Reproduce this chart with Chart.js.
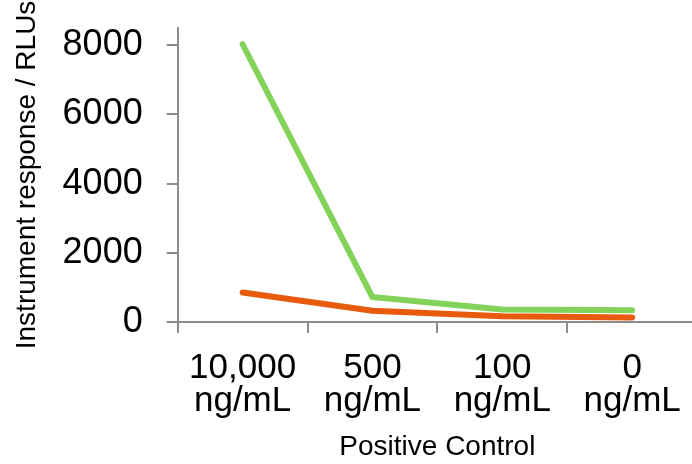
<!DOCTYPE html>
<html>
<head>
<meta charset="utf-8">
<script src="https://cdn.jsdelivr.net/npm/chart.js@4.4.1/dist/chart.umd.min.js"></script>
<style>
  body { margin: 0; background: #fff; overflow: hidden; }
</style>
</head>
<body>
<canvas id="responseChart" width="700" height="464"></canvas>
<script>
// categories and series
const concentrations = [['10,000', 'ng/mL'], ['500', 'ng/mL'], ['100', 'ng/mL'], ['0', 'ng/mL']];
const greenSeries = [8030, 720, 360, 340];
const orangeSeries = [850, 320, 165, 130];
const yTicks = [0, 2000, 4000, 6000, 8000];

const axisGrey = '#8c8c8c';

const ctx = document.getElementById('responseChart').getContext('2d');
new Chart(ctx, {
  type: 'line',
  data: {
    labels: concentrations,
    datasets: [{
      label: 'Sample A',
      data: greenSeries,
      borderColor: 'rgb(131, 210, 90)',
      borderWidth: 6,
      borderCapStyle: 'round',
      borderJoinStyle: 'round',
      pointRadius: 0,
      tension: 0,
    }, {
      label: 'Sample B',
      data: orangeSeries,
      borderColor: 'rgb(232, 90, 12)',
      borderWidth: 6,
      borderCapStyle: 'round',
      borderJoinStyle: 'round',
      pointRadius: 0,
      tension: 0,
    }],
  },
  options: {
    responsive: false,
    animation: false,
    layout: {
      padding: { top: 28, right: 2, bottom: 0, left: 0 },
    },
    plugins: {
      legend: { display: false },
      tooltip: { enabled: false },
    },
    scales: {
      x: {
        offset: true,
        afterFit: scale => {
          // pull the plot down a bit, labels follow it
          scale.height -= 7;
        },
        grid: {
          offset: true,
          drawOnChartArea: false,
          drawTicks: true,
          tickLength: 11,
          color: axisGrey,
          lineWidth: 2,
        },
        border: { color: axisGrey, width: 2 },
        ticks: {
          color: '#000',
          padding: 19,
          maxRotation: 0,
          font: { family: 'Liberation Sans', size: 35, lineHeight: 0.95 },
        },
        title: {
          display: true,
          text: 'Positive Control',
          color: '#000',
          font: { family: 'Liberation Sans', size: 28, lineHeight: 1.2 },
          padding: { top: 0, bottom: 0 },
        },
      },
      y: {
        min: 0,
        max: 8500,
        afterBuildTicks: scale => {
          scale.ticks = yTicks.map(v => ({ value: v }));
        },
        afterFit: scale => {
          scale.paddingTop = 0;
          scale.paddingBottom = 0;
          scale.width -= 24;
        },
        grid: {
          drawOnChartArea: false,
          drawTicks: true,
          tickLength: 11,
          color: axisGrey,
          lineWidth: 2,
        },
        border: { color: axisGrey, width: 2 },
        ticks: {
          color: '#000',
          padding: 24,
          font: { family: 'Liberation Sans', size: 36 },
          callback: value => String(value),
        },
        title: {
          display: true,
          text: 'Instrument response / RLUs',
          color: '#000',
          font: { family: 'Liberation Sans', size: 28, lineHeight: 1.2 },
          padding: { top: 10, bottom: 19 },
        },
      },
    },
  },
});
</script>
</body>
</html>
